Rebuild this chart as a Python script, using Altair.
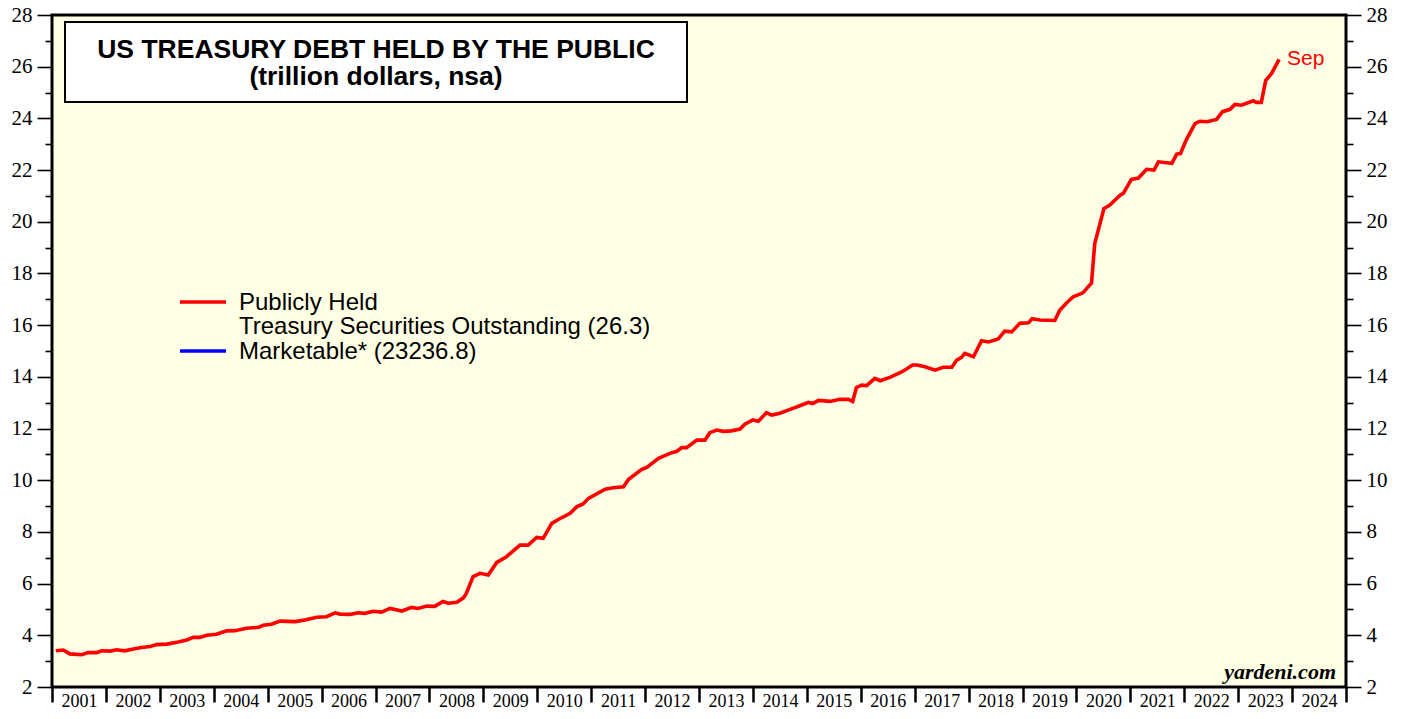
import altair as alt
import pandas as pd

# Decimal year positions and values (trillion dollars)
years = [2001.07, 2001.21, 2001.33, 2001.55, 2001.67, 2001.83, 2001.92,
         2002.08, 2002.20, 2002.35, 2002.51, 2002.66, 2002.82, 2002.94,
         2003.13, 2003.34, 2003.50, 2003.62, 2003.74, 2003.87,
         2004.05, 2004.24, 2004.39, 2004.61, 2004.83, 2004.92,
         2005.07, 2005.23, 2005.51, 2005.69, 2005.91,
         2006.09, 2006.25, 2006.34, 2006.53, 2006.68, 2006.80, 2006.96,
         2007.11, 2007.27, 2007.49, 2007.67, 2007.79, 2007.95,
         2008.10, 2008.25, 2008.35, 2008.51, 2008.63, 2008.68, 2008.81, 2008.94,
         2009.09, 2009.25, 2009.43, 2009.68, 2009.83, 2009.99,
         2010.11, 2010.27, 2010.39, 2010.61, 2010.73, 2010.85, 2010.95,
         2011.26, 2011.41, 2011.60, 2011.69, 2011.94,
         2012.03, 2012.25, 2012.46, 2012.59, 2012.68, 2012.77, 2012.96,
         2013.11, 2013.20, 2013.33, 2013.45, 2013.60, 2013.76, 2013.85,
         2014.00, 2014.10, 2014.25, 2014.35, 2014.50, 2014.69, 2014.87,
         2015.03, 2015.11, 2015.22, 2015.43, 2015.61, 2015.77, 2015.85, 2015.92,
         2016.02, 2016.11, 2016.26, 2016.36, 2016.54, 2016.73, 2016.85, 2016.96,
         2017.04, 2017.19, 2017.38, 2017.53, 2017.69, 2017.78, 2017.87, 2017.93,
         2018.09, 2018.24, 2018.37, 2018.55, 2018.67, 2018.80, 2018.95,
         2019.11, 2019.18, 2019.32, 2019.60, 2019.69, 2019.82, 2019.94,
         2020.12, 2020.28, 2020.34, 2020.51, 2020.62, 2020.81, 2020.87,
         2021.02, 2021.15, 2021.30, 2021.44, 2021.52, 2021.77, 2021.86, 2021.93,
         2022.04, 2022.20, 2022.29, 2022.42, 2022.60, 2022.71, 2022.85, 2022.94,
         2023.06, 2023.28, 2023.34, 2023.43, 2023.51, 2023.62, 2023.76]

debt = [3.40, 3.43, 3.28, 3.25, 3.33, 3.33, 3.40,
        3.39, 3.44, 3.40, 3.47, 3.53, 3.57, 3.64,
        3.66, 3.74, 3.82, 3.92, 3.92, 4.00,
        4.04, 4.17, 4.18, 4.27, 4.31, 4.39,
        4.43, 4.55, 4.53, 4.59, 4.70,
        4.72, 4.87, 4.82, 4.81, 4.87, 4.85, 4.93,
        4.90, 5.04, 4.94, 5.08, 5.04, 5.13,
        5.12, 5.31, 5.24, 5.28, 5.45, 5.60, 6.27, 6.40,
        6.33, 6.82, 7.04, 7.49, 7.49, 7.79,
        7.75, 8.33, 8.48, 8.72, 8.97, 9.08, 9.30,
        9.65, 9.71, 9.75, 10.03, 10.42,
        10.50, 10.85, 11.04, 11.12, 11.26, 11.26, 11.55,
        11.55, 11.84, 11.94, 11.89, 11.91, 11.98, 12.17,
        12.33, 12.28, 12.61, 12.52, 12.59, 12.74, 12.88,
        13.01, 12.97, 13.09, 13.05, 13.13, 13.13, 13.05, 13.59,
        13.68, 13.66, 13.94, 13.85, 13.98, 14.16, 14.30, 14.46,
        14.46, 14.39, 14.26, 14.37, 14.37, 14.65, 14.75, 14.91,
        14.78, 15.40, 15.35, 15.47, 15.77, 15.74, 16.07,
        16.09, 16.25, 16.20, 16.18, 16.58, 16.87, 17.10,
        17.25, 17.63, 19.16, 20.51, 20.65, 21.03, 21.10,
        21.64, 21.69, 22.03, 22.00, 22.32, 22.26, 22.62, 22.64,
        23.18, 23.80, 23.89, 23.87, 23.96, 24.26, 24.35, 24.54,
        24.51, 24.68, 24.62, 24.62, 25.46, 25.74, 26.28]

tick_years = list(range(2001, 2026))
y_ticks = list(range(2, 29))

title_lines = ["US TREASURY DEBT HELD BY THE PUBLIC", "(trillion dollars, nsa)"]
legend_labels = ["Publicly Held", "Treasury Securities Outstanding (26.3)", "Marketable* (23236.8)"]
last_label = "Sep"
source = "yardeni.com"

df = pd.DataFrame({"t": years, "v": debt})
one = pd.DataFrame({"k": [0]})

W, H = 1294, 672
SERIF = "Liberation Serif"
SANS = "Liberation Sans"

x_scale = alt.Scale(domain=[2001, 2025], nice=False, zero=False)
y_scale = alt.Scale(domain=[2, 28], nice=False, zero=False)

x_axis = alt.Axis(values=tick_years, format="d",
                  labelExpr="datum.value >= 2025 ? '' : datum.label",
                  labelOffset=27, labelAlign="center", labelBaseline="alphabetic",
                  labelPadding=4, tickSize=15, tickWidth=2.5, tickColor="black",
                  domain=False, grid=False, labelFont=SERIF, labelFontSize=18,
                  labelColor="black", title=None, labelFlush=False, labelOverlap=False)

tick_cond = {"condition": {"test": "datum.value % 2 === 0", "value": 15}, "value": 7}

def y_axis(orient):
    return alt.Axis(values=y_ticks, orient=orient,
                    labelExpr="datum.value % 2 === 0 ? datum.label : ''",
                    tickSize=tick_cond, tickWidth=1.6, tickColor="black",
                    domain=False, grid=False, labelFont=SERIF, labelFontSize=21,
                    labelColor="black", labelPadding=5, title=None,
                    labelOverlap=False, labelFlush=False)

line = alt.Chart(df).mark_line(color="#FF0000", strokeWidth=3.6).encode(
    x=alt.X("t:Q", scale=x_scale, axis=x_axis),
    y=alt.Y("v:Q", scale=y_scale, axis=y_axis("left")),
)

right = alt.Chart(df).mark_line(opacity=0).encode(
    x=alt.X("t:Q", scale=x_scale, axis=x_axis),
    y=alt.Y("v:Q", scale=y_scale, axis=y_axis("right")),
)

box = alt.Chart(one).mark_rect(fill="white", stroke="black", strokeWidth=2).encode(
    x=alt.value(13), x2=alt.value(635), y=alt.value(7), y2=alt.value(87))

t1 = alt.Chart(one).mark_text(text=title_lines[0], font=SANS, fontWeight="bold",
                              fontSize=26.5, align="center", baseline="middle",
                              color="black").encode(x=alt.value(324), y=alt.value(35))
t2 = alt.Chart(one).mark_text(text=title_lines[1], font=SANS, fontWeight="bold",
                              fontSize=26.5, align="center", baseline="middle",
                              color="black").encode(x=alt.value(324), y=alt.value(62))

leg_red = alt.Chart(one).mark_rule(color="#FF0000", strokeWidth=3.5).encode(
    x=alt.value(128), x2=alt.value(174), y=alt.value(287))
leg_blue = alt.Chart(one).mark_rule(color="#0000FF", strokeWidth=3.5).encode(
    x=alt.value(128), x2=alt.value(174), y=alt.value(336))

leg_texts = [
    alt.Chart(one).mark_text(text=lab, font=SANS, fontSize=24, align="left",
                             baseline="middle", color="black").encode(
        x=alt.value(187), y=alt.value(yy))
    for lab, yy in zip(legend_labels, [288, 312, 337])
]

sep = alt.Chart(one).mark_text(text=last_label, font=SANS, fontSize=21, align="left",
                               baseline="middle", color="#FF0000").encode(
    x=alt.value(1235), y=alt.value(44))

src = alt.Chart(one).mark_text(text=source, font=SERIF, fontSize=22, fontWeight="bold",
                               fontStyle="italic", align="right", baseline="middle",
                               color="black").encode(x=alt.value(1284), y=alt.value(657))

chart = alt.layer(line, right, box, t1, t2, leg_red, leg_blue, *leg_texts, sep, src).resolve_scale(
    y="independent").resolve_axis(y="independent").properties(
    width=W, height=H,
    autosize=alt.AutoSizeParams(type="none"),
    padding={"left": 44, "top": 7, "right": 53, "bottom": 24},
    background="white",
).configure_view(stroke="black", strokeWidth=3, fill="#FFFFE6")

chart.save("out.html", embed_options={"renderer": "svg", "actions": False})
